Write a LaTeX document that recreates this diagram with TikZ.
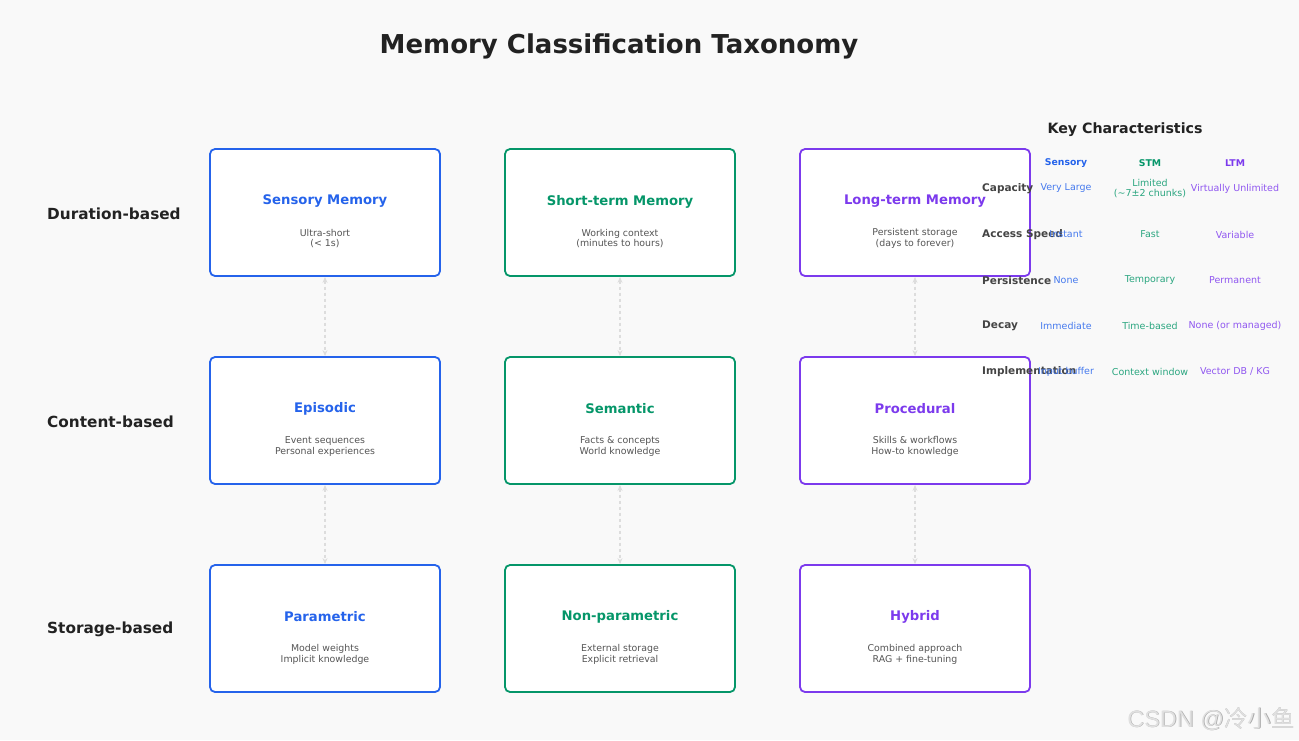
\documentclass[tikz,border=0pt]{standalone}
\usepackage{fontspec}
\setmainfont{DejaVu Sans}
\newfontfamily\cjkf{Noto Sans CJK SC}
\newfontfamily\wmf{Liberation Sans}
\usetikzlibrary{arrows.meta}
\definecolor{cblue}{HTML}{2563EB}
\definecolor{cgreen}{HTML}{059669}
\definecolor{cpurple}{HTML}{7C3AED}
\definecolor{bg}{HTML}{F9F9F9}
\definecolor{dark}{HTML}{222222}
\definecolor{mid}{HTML}{444444}
\definecolor{sub}{HTML}{555555}
\definecolor{conn}{HTML}{DDDDDD}
\tikzset{
  txt/.style={inner sep=0pt, yshift=-1.5pt},
  mbox/.style={draw=#1, line width=1.8pt, fill=white, rounded corners=5pt, minimum width=230pt, minimum height=127pt, inner sep=0pt},
  mtitle/.style={txt, text=#1, font=\fontsize{13.2}{15}\selectfont\bfseries},
  msub/.style={txt, text=sub, font=\fontsize{9.4}{10.4}\selectfont, align=center},
  rowlab/.style={txt, text=dark, font=\fontsize{15.3}{17}\selectfont\bfseries, anchor=west},
  conn/.style={draw=conn, line width=1.4pt, dashed, {Stealth[length=6pt,width=5pt]}-{Stealth[length=6pt,width=5pt]}},
  kh/.style={txt, text=#1, font=\fontsize{9.3}{11}\selectfont\bfseries},
  kl/.style={txt, text=mid, font=\fontsize{10.5}{12}\selectfont\bfseries, anchor=west},
  kv/.style={txt, text=#1!85, font=\fontsize{9.5}{10.3}\selectfont, align=center},
}
\begin{document}
\begin{tikzpicture}[x=1pt,y=-1pt]
\fill[bg] (0,0) rectangle (1299,740);
\useasboundingbox (0,0) rectangle (1299,740);

\node[txt, text=dark, font=\fontsize{26}{30}\selectfont\bfseries] (title) at (619,45) {Memory Classification Taxonomy};

\node[rowlab] (r1) at (47,212) {Duration-based};
\node[rowlab] (r2) at (47,420) {Content-based};
\node[rowlab] (r3) at (47,628) {Storage-based};

% boxes
\node[mbox=cblue] (b11) at (325,212.5) {};
\node[mbox=cgreen] (b12) at (620,212.5) {};
\node[mbox=cpurple] (b13) at (915,212.5) {};
\node[mbox=cblue] (b21) at (325,420.5) {};
\node[mbox=cgreen] (b22) at (620,420.5) {};
\node[mbox=cpurple] (b23) at (915,420.5) {};
\node[mbox=cblue] (b31) at (325,628.5) {};
\node[mbox=cgreen] (b32) at (620,628.5) {};
\node[mbox=cpurple] (b33) at (915,628.5) {};

\node[mtitle=cblue] (t11) at (325,200) {Sensory Memory};
\node[msub] (s11) at (325,237) {Ultra-short\\(< 1s)};
\node[mtitle=cgreen] (t12) at (620,200) {Short-term Memory};
\node[msub] (s12) at (620,237) {Working context\\(minutes to hours)};
\node[mtitle=cpurple] (t13) at (915,200) {Long-term Memory};
\node[msub] (s13) at (915,237) {Persistent storage\\(days to forever)};

\node[mtitle=cblue] (t21) at (325,407) {Episodic};
\node[msub] (s21) at (325,445) {Event sequences\\Personal experiences};
\node[mtitle=cgreen] (t22) at (620,407) {Semantic};
\node[msub] (s22) at (620,445) {Facts \& concepts\\World knowledge};
\node[mtitle=cpurple] (t23) at (915,407) {Procedural};
\node[msub] (s23) at (915,445) {Skills \& workflows\\How-to knowledge};

\node[mtitle=cblue] (t31) at (325,615) {Parametric};
\node[msub] (s31) at (325,653) {Model weights\\Implicit knowledge};
\node[mtitle=cgreen] (t32) at (620,615) {Non-parametric};
\node[msub] (s32) at (620,653) {External storage\\Explicit retrieval};
\node[mtitle=cpurple] (t33) at (915,615) {Hybrid};
\node[msub] (s33) at (915,653) {Combined approach\\RAG + fine-tuning};

% connectors
\draw[conn] (b11.south) -- (b21.north);
\draw[conn] (b21.south) -- (b31.north);
\draw[conn] (b12.south) -- (b22.north);
\draw[conn] (b22.south) -- (b32.north);
\draw[conn] (b13.south) -- (b23.north);
\draw[conn] (b23.south) -- (b33.north);

% key characteristics
\node[txt, text=dark, font=\fontsize{14.2}{16}\selectfont\bfseries] (kt) at (1125,128) {Key Characteristics};
\node[kh=cblue] (h1) at (1066,162) {Sensory};
\node[kh=cgreen] (h2) at (1150,162) {STM};
\node[kh=cpurple] (h3) at (1235,162) {LTM};

\node[kl] (l1) at (982,187) {Capacity};
\node[kl] (l2) at (982,233) {Access Speed};
\node[kl] (l3) at (982,279) {Persistence};
\node[kl] (l4) at (982,324) {Decay};
\node[kl] (l5) at (982,370) {Implementation};

\node[kv=cblue] (v11) at (1066,187) {Very Large};
\node[kv=cgreen] (v12) at (1150,187) {Limited\\(\textasciitilde7±2 chunks)};
\node[kv=cpurple] (v13) at (1235,187) {Virtually Unlimited};
\node[kv=cblue] (v21) at (1066,233) {Instant};
\node[kv=cgreen] (v22) at (1150,233) {Fast};
\node[kv=cpurple] (v23) at (1235,233) {Variable};
\node[kv=cblue] (v31) at (1066,279) {None};
\node[kv=cgreen] (v32) at (1150,279) {Temporary};
\node[kv=cpurple] (v33) at (1235,279) {Permanent};
\node[kv=cblue] (v41) at (1066,324) {Immediate};
\node[kv=cgreen] (v42) at (1150,324) {Time-based};
\node[kv=cpurple] (v43) at (1235,324) {None (or managed)};
\node[kv=cblue] (v51) at (1066,370) {Input buffer};
\node[kv=cgreen] (v52) at (1150,370) {Context window};
\node[kv=cpurple] (v53) at (1235,370) {Vector DB / KG};

% watermark
\node[text=black!35, font=\fontsize{23.5}{26}\selectfont, anchor=east, inner sep=0pt] (wms) at (1295.6,719.6) {\wmf CSDN @\cjkf 冷小鱼};
\node[text=black!12, font=\fontsize{23.5}{26}\selectfont, anchor=east, inner sep=0pt] (wm) at (1295,719) {\wmf CSDN @\cjkf 冷小鱼};
\end{tikzpicture}
\end{document}
